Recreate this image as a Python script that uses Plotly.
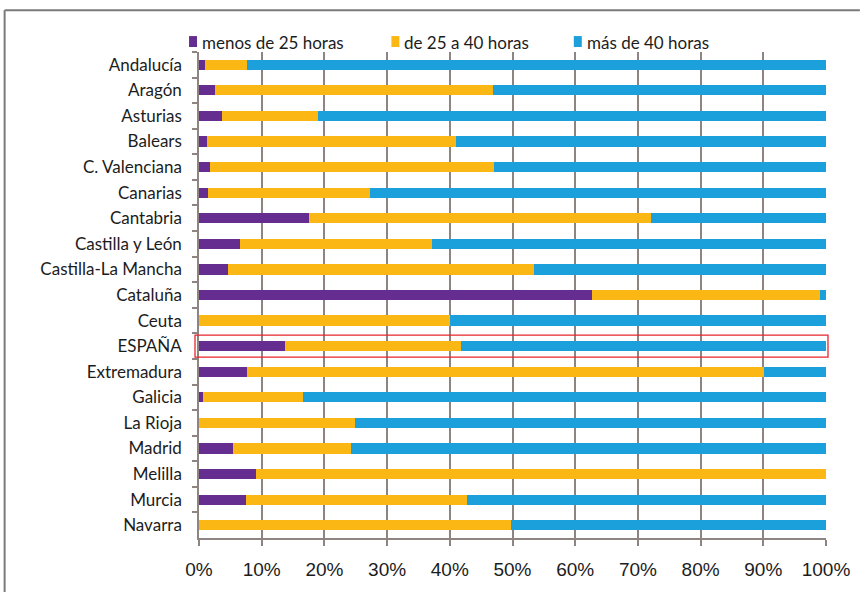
import plotly.graph_objects as go

# Weekly working hours by region (share of workers, %)
regions = ["Andalucía", "Aragón", "Asturias", "Balears", "C. Valenciana", "Canarias",
           "Cantabria", "Castilla y León", "Castilla-La Mancha", "Cataluña", "Ceuta",
           "ESPAÑA", "Extremadura", "Galicia", "La Rioja", "Madrid", "Melilla",
           "Murcia", "Navarra"]
menos_25 = [1.0, 2.5, 3.7, 1.2, 1.7, 1.5, 17.5, 6.5, 4.6, 62.6, 0.0,
            13.7, 7.7, 0.7, 0.0, 5.5, 9.1, 7.5, 0.0]
de_25_a_40 = [6.7, 44.4, 15.2, 39.8, 45.4, 25.7, 54.6, 30.7, 48.8, 36.5, 40.1,
              28.1, 82.4, 15.9, 24.8, 18.8, 90.9, 35.3, 49.7]
mas_40 = [92.3, 53.1, 81.1, 59.0, 52.9, 72.8, 27.9, 62.8, 46.6, 0.9, 59.9,
          58.2, 9.9, 83.4, 75.2, 75.7, 0.0, 57.2, 50.3]
series_names = ["menos de 25 horas", "de 25 a 40 horas", "más de 40 horas"]
x_ticks = list(range(0, 101, 10))
highlight = "ESPAÑA"

colors = ["#662d91", "#fbb714", "#1ba0dc"]
grid_color = "#8e8583"
text_color = "#1c1c1c"
label_font = "Lato"

W, H = 862, 592
L, R, T, B = 199, 34, 52, 52
plot_w, plot_h = W - L - R, H - T - B


def px_x(px):
    return (px - L) / plot_w


def px_y(py):
    return (H - B - py) / plot_h


fig = go.Figure()
for name, vals, col in zip(series_names, [menos_25, de_25_a_40, mas_40], colors):
    fig.add_trace(go.Bar(
        y=regions, x=vals, name=name, orientation="h", showlegend=False,
        marker=dict(color=col, line=dict(width=0)),
    ))

fig.update_layout(
    barmode="stack",
    bargap=0.6,
    width=W, height=H,
    margin=dict(l=L, r=R, t=T, b=B),
    paper_bgcolor="white",
    plot_bgcolor="white",
    font=dict(family=label_font, size=17, color=text_color),
)

fig.update_xaxes(
    range=[0, 100],
    tickvals=x_ticks,
    ticktext=[f"{v}%" for v in x_ticks],
    showgrid=True, gridcolor=grid_color, gridwidth=1.5,
    showline=True, linecolor=grid_color, linewidth=1.5,
    ticks="outside", ticklen=6, tickcolor=grid_color, tickwidth=1.5,
    ticklabelstandoff=7,
    tickfont=dict(family="Liberation Sans", size=19, color=text_color),
    zeroline=False,
)
fig.update_yaxes(
    autorange="reversed",
    type="category",
    showline=True, linecolor=grid_color, linewidth=1.5,
    ticks="outside", ticklen=5, tickcolor=grid_color, tickwidth=1.5,
    tickson="boundaries",
    ticklabelstandoff=12,
    showgrid=False,
    tickfont=dict(family=label_font, size=17, color=text_color),
)

# Legend row: small colour key followed by the series name
legend_text_x = [200, 403, 586]
legend_y = 42
for name, col, tx in zip(series_names, colors, legend_text_x):
    fig.add_shape(type="rect", xref="paper", yref="paper",
                  x0=px_x(tx - 11), x1=px_x(tx - 3),
                  y0=px_y(legend_y + 5), y1=px_y(legend_y - 6),
                  line=dict(width=0), fillcolor=col)
    fig.add_annotation(text=name, xref="paper", yref="paper",
                       x=px_x(tx), y=px_y(legend_y), xanchor="left", yanchor="middle",
                       showarrow=False, font=dict(family=label_font, size=17, color=text_color))

# Red frame around the national total row
idx = regions.index(highlight)
n = len(regions)
yc = 1 - (idx + 0.5) / n
half = 0.43 / n
fig.add_shape(type="rect", xref="paper", yref="paper",
              x0=px_x(195), x1=px_x(830),
              y0=yc - half, y1=yc + half,
              line=dict(color="#e8262d", width=1.3), fillcolor="rgba(0,0,0,0)",
              layer="above")

# Outer frame (top and left edges)
fig.add_shape(type="line", xref="paper", yref="paper",
              x0=px_x(4), x1=px_x(W), y0=px_y(10), y1=px_y(10),
              line=dict(color="#7a7a7a", width=2))
fig.add_shape(type="line", xref="paper", yref="paper",
              x0=px_x(4), x1=px_x(4), y0=px_y(10), y1=px_y(H + 10),
              line=dict(color="#7a7a7a", width=2))

fig.write_html("out.html")
